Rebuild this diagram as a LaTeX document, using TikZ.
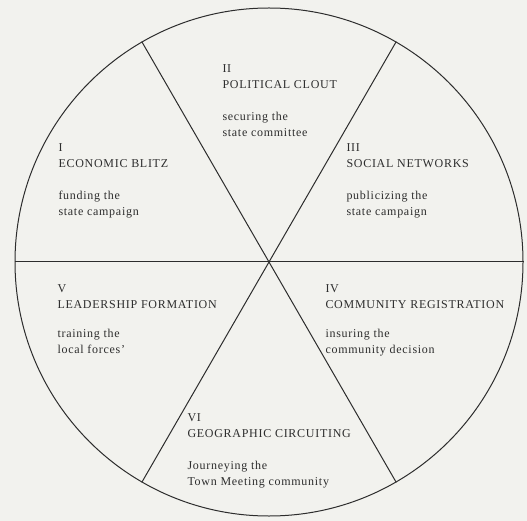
\documentclass[tikz,border=0pt]{standalone}
\usepackage{fontspec}
\setmainfont{Liberation Serif}[LetterSpace=6]
\usepackage{tikz}
\definecolor{paper}{RGB}{242,242,238}
\definecolor{ink}{RGB}{45,45,45}

\begin{document}
\begin{tikzpicture}[x=1pt,y=-1pt,line width=1pt,draw=ink]
\tikzstyle{sec}=[anchor=base west,inner sep=0pt,text=ink,font=\fontsize{12}{16}\selectfont]
\tikzstyle{rim}=[circle,draw,inner sep=0pt,minimum size=508pt]
\fill[paper] (0,0) rectangle (527,521);
\useasboundingbox (0,0) rectangle (527,521);
% the wheel and its six spokes
\node[rim] (W) at (269,262) {};
\draw (W.120) -- (W.300);
\draw (W.60)  -- (W.240);
\draw (W.180) -- (W.0);
% the six phases
\node[sec] (P1) at (58,152)  {\begin{tabular}[t]{@{}l@{}}
  I\\
  ECONOMIC BLITZ\\[16pt]
  funding the\\
  state campaign\\
 \end{tabular}};
\node[sec] (P2) at (222,73)  {\begin{tabular}[t]{@{}l@{}}
  II\\
  POLITICAL CLOUT\\[16pt]
  securing the\\
  state committee\\
 \end{tabular}};
\node[sec] (P3) at (346,152) {\begin{tabular}[t]{@{}l@{}}
  III\\
  SOCIAL NETWORKS\\[16pt]
  publicizing the\\
  state campaign\\
 \end{tabular}};
\node[sec] (P4) at (325,292) {\begin{tabular}[t]{@{}l@{}}
  IV\\
  COMMUNITY REGISTRATION\\[13pt]
  insuring the\\
  community decision\\
 \end{tabular}};
\node[sec] (P5) at (57,292)  {\begin{tabular}[t]{@{}l@{}}
  V\\
  LEADERSHIP FORMATION\\[13pt]
  training the\\
  local forces'\\
 \end{tabular}};
\node[sec] (P6) at (187,421) {\begin{tabular}[t]{@{}l@{}}
  VI\\
  GEOGRAPHIC CIRCUITING\\[16pt]
  Journeying the\\
  Town Meeting community\\
 \end{tabular}};
\end{tikzpicture}
\end{document}
